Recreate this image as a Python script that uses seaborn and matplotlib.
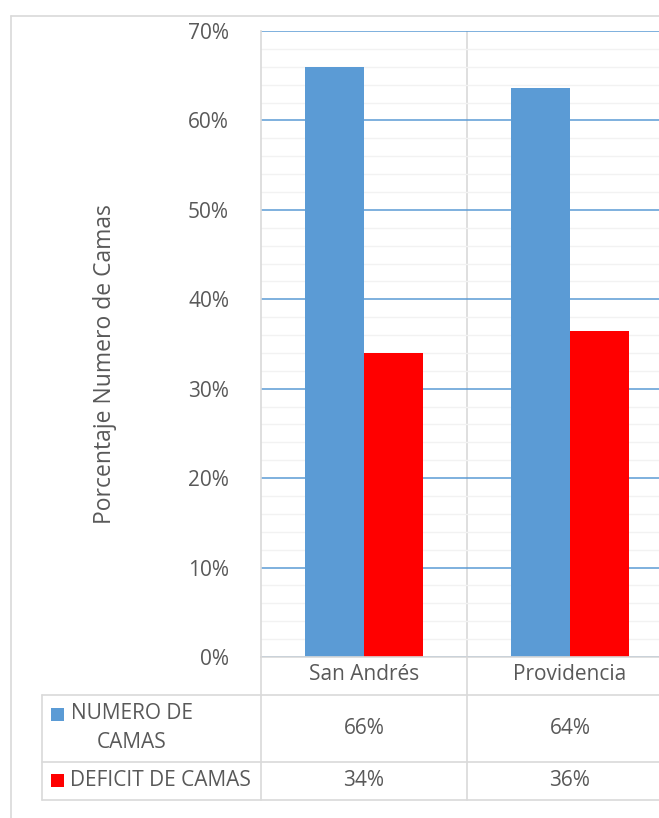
import pandas as pd
import matplotlib
matplotlib.use("Agg")
import matplotlib.pyplot as plt
import matplotlib.transforms as mtransforms
from matplotlib.lines import Line2D
from matplotlib.patches import Rectangle
from matplotlib.ticker import MultipleLocator, PercentFormatter
import seaborn as sns

# data
lugares = ["San Andrés", "Providencia"]
series = ["NUMERO DE CAMAS", "DEFICIT DE CAMAS"]
numero_camas = [66.0, 63.6]
deficit_camas = [34.0, 36.4]
colores = ["#5B9BD5", "#FF0000"]

df = pd.DataFrame({
    "lugar": lugares * 2,
    "serie": [series[0]] * 2 + [series[1]] * 2,
    "valor": numero_camas + deficit_camas,
})

sns.set_style("white")
plt.rcParams["font.family"] = ["Open Sans", "DejaVu Sans"]

TXT = "#595959"
LINE = "#D9D9D9"
W, H = 659, 818
FS = 15

fig = plt.figure(figsize=(W / 100, H / 100), dpi=100)


def px(x, y):
    return x / W, 1 - y / H


# axes spans 261..673 px horizontally, 31..657 px vertically
ax = fig.add_axes([261 / W, 1 - 657 / H, 412 / W, 626 / H])

sns.barplot(
    data=df, x="lugar", y="valor", hue="serie",
    order=lugares, hue_order=series,
    palette=colores, width=0.57, saturation=1,
    edgecolor="none", legend=False, ax=ax,
)

ax.set_xlim(-0.5, 1.5)
ax.set_ylim(0, 70)
ax.yaxis.set_major_locator(MultipleLocator(10))
ax.yaxis.set_minor_locator(MultipleLocator(2))
ax.yaxis.set_major_formatter(PercentFormatter(decimals=0))
ax.grid(which="minor", axis="y", color="#F2F2F2", linewidth=1.0)
ax.grid(which="major", axis="y", color="#5B9BD5", linewidth=1.1)
ax.set_axisbelow(True)
ax.axvline(0.5, color=LINE, linewidth=1.2, zorder=0.5)

for s in ["top", "right", "bottom"]:
    ax.spines[s].set_visible(False)
ax.spines["left"].set_color(LINE)
ax.spines["left"].set_linewidth(1.2)

ax.tick_params(axis="both", length=0)
ax.tick_params(axis="y", labelsize=FS, labelcolor=TXT, pad=23)
ax.tick_params(axis="x", labelsize=FS, labelcolor=TXT, pad=5)
ax.set_xlabel("")
ax.set_ylabel("")

fig.text(*px(105, 364), "Porcentaje Numero de Camas", rotation=90,
         ha="center", va="center", fontsize=16.5, color=TXT)

# outer chart border
for (x0, y0, x1, y1) in [(11, 16, 11, H), (11, 16, W, 16)]:
    fig.add_artist(Line2D([px(x0, y0)[0], px(x1, y1)[0]],
                          [px(x0, y0)[1], px(x1, y1)[1]],
                          transform=fig.transFigure, color=LINE, linewidth=1.2))

# data table lines
table_lines = [
    (261, 657, W, 657),
    (42, 695, W, 695),
    (42, 762, W, 762),
    (42, 800, W, 800),
    (42, 695, 42, 800),
    (261, 657, 261, 800),
    (467, 657, 467, 800),
]
for (x0, y0, x1, y1) in table_lines:
    fig.add_artist(Line2D([px(x0, y0)[0], px(x1, y1)[0]],
                          [px(x0, y0)[1], px(x1, y1)[1]],
                          transform=fig.transFigure, color=LINE, linewidth=1.2))

# legend keys and row labels
fig.add_artist(Rectangle(px(51, 721), 13 / W, 13 / H, transform=fig.transFigure,
                         facecolor=colores[0], edgecolor="none"))
fig.add_artist(Rectangle(px(51, 787), 13 / W, 13 / H, transform=fig.transFigure,
                         facecolor=colores[1], edgecolor="none"))
fig.text(*px(132, 728), "NUMERO DE\nCAMAS", ha="center", va="center",
         multialignment="center", fontsize=FS, color=TXT, linespacing=1.45)
fig.text(*px(70, 781), series[1], ha="left", va="center",
         fontsize=FS, color=TXT)

# table values
trans = mtransforms.blended_transform_factory(ax.transData, fig.transFigure)
row_y = [px(0, 729)[1], px(0, 781)[1]]
for i, vals in enumerate([numero_camas, deficit_camas]):
    for j, v in enumerate(vals):
        ax.text(j, row_y[i], f"{v:.0f}%", transform=trans, ha="center",
                va="center", fontsize=FS, color=TXT, clip_on=False)

fig.savefig("out.png", dpi=100)
